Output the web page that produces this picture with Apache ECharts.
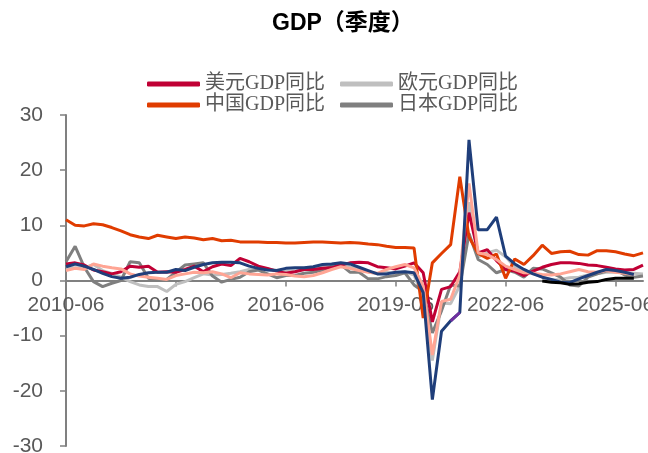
<!DOCTYPE html>
<html>
<head>
<meta charset="utf-8">
<script src="https://cdn.jsdelivr.net/npm/echarts@6/dist/echarts.min.js"></script>
<style>
html, body { margin: 0; padding: 0; background: #fff; }
#chart { width: 648px; height: 453px; }
</style>
</head>
<body>
<div id="chart"></div>
<script>
// quarterly labels 2010-06 .. 2026-03
const quarters = []
for (let y = 2010; y <= 2026; y++) {
  for (const m of ['03', '06', '09', '12']) {
    const q = y + '-' + m
    if (q >= '2010-06' && q <= '2026-03') quarters.push(q)
  }
}

const usd = [3.0, 3.2, 2.8, 1.9, 1.6, 1.2, 1.6, 2.6, 2.4, 2.6, 1.5, 1.6, 1.5, 2.0, 2.6, 1.6,
  2.5, 3.0, 2.7, 4.0, 3.4, 2.6, 2.2, 1.7, 1.3, 1.6, 2.0, 2.0, 2.2, 2.3, 2.8, 3.2,
  3.3, 3.2, 2.5, 2.3, 2.1, 2.6, 3.2, 1.4, -7.5, -1.6, -1.1, 1.6, 12.3, 5.0, 5.6, 3.6,
  2.0, 1.7, 0.9, 1.7, 2.4, 2.9, 3.2, 3.2, 3.1, 2.8, 2.7, 2.4, 2.1, 1.9, 2.0, 2.8]

const eur = [2.2, 2.3, 2.3, 2.9, 1.8, 1.3, 0.6, -0.2, -0.8, -1.1, -1.1, -2.0, -0.7, -0.2, 0.5, 1.2,
  1.0, 1.1, 1.3, 1.6, 2.0, 2.0, 2.1, 1.8, 1.7, 1.7, 2.0, 2.2, 2.6, 2.9, 3.0, 2.5,
  2.2, 1.6, 1.2, 1.5, 1.3, 1.6, 1.0, -3.2, -14.5, -4.1, -4.2, -0.9, 14.2, 4.3, 5.0, 5.5,
  4.3, 2.5, 1.8, 1.3, 0.6, 0.1, 0.2, 0.5, 0.6, 1.0, 1.2, 1.5, 1.5, 1.4, 1.3, 1.2]

const cny = [11.0, 10.0, 9.9, 10.3, 10.1, 9.6, 9.0, 8.3, 7.9, 7.6, 8.2, 7.9, 7.6, 7.9, 7.7, 7.4,
  7.6, 7.2, 7.3, 7.0, 7.0, 7.0, 6.9, 6.9, 6.8, 6.8, 6.9, 7.0, 7.0, 6.9, 6.8, 6.9,
  6.8, 6.6, 6.5, 6.2, 6.0, 6.0, 5.9, -6.8, 3.2, 4.9, 6.5, 18.8, 7.9, 4.9, 4.0, 4.8,
  0.4, 3.9, 2.9, 4.5, 6.4, 4.9, 5.2, 5.3, 4.7, 4.6, 5.4, 5.4, 5.2, 4.8, 4.5, 5.0]

const jpy = [3.4, 6.2, 2.4, -0.2, -1.1, -0.5, 0.0, 3.4, 3.2, 0.4, 0.0, 0.2, 1.5, 2.8, 3.0, 3.2,
  0.8, -0.3, 0.2, 0.6, 1.6, 1.9, 1.2, 0.5, 0.9, 0.9, 1.3, 1.5, 1.9, 2.6, 2.9, 1.5,
  1.5, 0.3, 0.3, 0.7, 0.9, 1.4, -0.8, -2.0, -9.5, -5.5, -0.8, -1.0, 8.5, 3.8, 2.9, 1.4,
  2.0, 1.5, 0.6, 2.2, 2.1, 1.4, 0.6, -0.8, -1.0, 0.6, 1.2, 1.7, 1.9, 1.0, 0.6, 0.8]

const gbp = [2.5, 3.0, 2.6, 2.0, 1.3, 0.7, 0.4, 0.6, 1.1, 1.4, 1.5, 1.5, 2.0, 1.8, 2.4, 2.9,
  3.2, 3.3, 3.3, 3.2, 2.6, 2.2, 1.9, 1.8, 2.2, 2.3, 2.3, 2.5, 2.9, 3.0, 3.2, 3.0,
  2.4, 1.8, 1.2, 1.2, 1.5, 1.6, 1.4, -2.2, -21.6, -9.2, -7.3, -5.8, 25.5, 9.2, 9.2, 11.5,
  4.4, 3.0, 2.0, 1.2, 0.6, 0.2, -0.3, -0.4, 0.3, 0.9, 1.5, 2.0, 1.8, 1.5, 1.1, null]

const other = [1.8, 2.2, 2.0, 3.0, 2.6, 2.3, 2.1, 1.2, 0.8, 0.6, 0.4, 0.2, 0.9, 1.2, 1.5, 1.4,
  1.6, 1.2, 0.5, 1.4, 1.2, 1.1, 1.0, 1.2, 1.1, 0.8, 0.7, 0.9, 1.4, 2.0, 2.5, 2.2,
  1.8, 1.5, 1.3, 2.0, 2.5, 2.9, 2.3, -1.0, -13.5, -3.8, -3.4, 1.0, 17.6, 5.0, 4.7, 3.8,
  2.6, 2.0, 1.4, 1.3, 1.1, 1.0, 1.2, 1.6, 2.0, 1.6, 1.5, 1.8, 1.5, 1.3, 1.1, null]

// short series: [index, value]
const purple = [[42, -7.3], [43, -5.8]]
const black = [[52, -0.1], [53, -0.3], [54, -0.4], [55, -0.7], [56, -0.6], [57, -0.3],
  [58, -0.2], [59, 0.2], [60, 0.4], [61, 0.4], [62, 0.4]]

function sparse(pairs) {
  const arr = quarters.map(() => null)
  pairs.forEach(p => { arr[p[0]] = p[1] })
  return arr
}

const yTicks = { min: -30, max: 30, interval: 10 }

function line(name, data, color) {
  return {
    name: name,
    type: 'line',
    data: data,
    symbol: 'none',
    connectNulls: false,
    lineStyle: { width: 3, color: color },
    itemStyle: { color: color }
  }
}

const legendText = {
  fontFamily: "'Liberation Serif', 'Noto Sans CJK SC'",
  fontSize: 20,
  color: '#595959'
}

const gridTop = 115, gridBottom = 7
const plotH = 453 - gridTop - gridBottom

const chart = echarts.init(document.getElementById('chart'))
chart.setOption({
  animation: false,
  title: {
    text: 'GDP（季度）',
    left: 267,
    top: 7,
    textStyle: {
      fontFamily: "'Liberation Sans', 'Noto Sans CJK SC'",
      fontSize: 23,
      fontWeight: 'bold',
      color: '#000'
    }
  },
  legend: [
    {
      data: ['美元GDP同比', '欧元GDP同比'],
      left: 142, top: 69,
      itemWidth: 53, itemHeight: 5, itemGap: 15,
      icon: 'roundRect',
      textStyle: legendText
    },
    {
      data: ['中国GDP同比', '日本GDP同比'],
      left: 142, top: 90,
      itemWidth: 53, itemHeight: 5, itemGap: 15,
      icon: 'roundRect',
      textStyle: legendText
    }
  ],
  grid: { left: 66, right: 5, top: gridTop, bottom: gridBottom, outerBoundsMode: 'none', containLabel: false },
  xAxis: {
    type: 'category',
    data: quarters,
    boundaryGap: false,
    offset: -plotH * (0 - yTicks.min) / (yTicks.max - yTicks.min),
    axisLine: { onZero: false, lineStyle: { color: '#808080', width: 2 } },
    axisTick: { show: true, interval: 11, length: 6, lineStyle: { color: '#808080', width: 1.5 } },
    axisLabel: {
      interval: 11,
      margin: 14,
      fontFamily: "'Liberation Sans'",
      fontSize: 21,
      color: '#595959'
    },
    splitLine: { show: false }
  },
  yAxis: {
    type: 'value',
    min: yTicks.min,
    max: yTicks.max,
    interval: yTicks.interval,
    axisLine: { show: true, lineStyle: { color: '#808080', width: 2 } },
    axisTick: { show: true, length: 6, lineStyle: { color: '#808080', width: 1.5 } },
    axisLabel: {
      margin: 23,
      fontFamily: "'Liberation Sans'",
      fontSize: 21,
      color: '#595959'
    },
    splitLine: { show: false }
  },
  series: [
    line('欧元GDP同比', eur, '#BFBFBF'),
    line('日本GDP同比', jpy, '#7F7F7F'),
    line('美元GDP同比', usd, '#C00035'),
    line('中国GDP同比', cny, '#E03C00'),
    line('其他1', other, '#FFA594'),
    line('其他2', gbp, '#1F3E7A'),
    line('其他3', sparse(purple), '#7030A0'),
    line('其他4', sparse(black), '#000000')
  ]
})
</script>
</body>
</html>
